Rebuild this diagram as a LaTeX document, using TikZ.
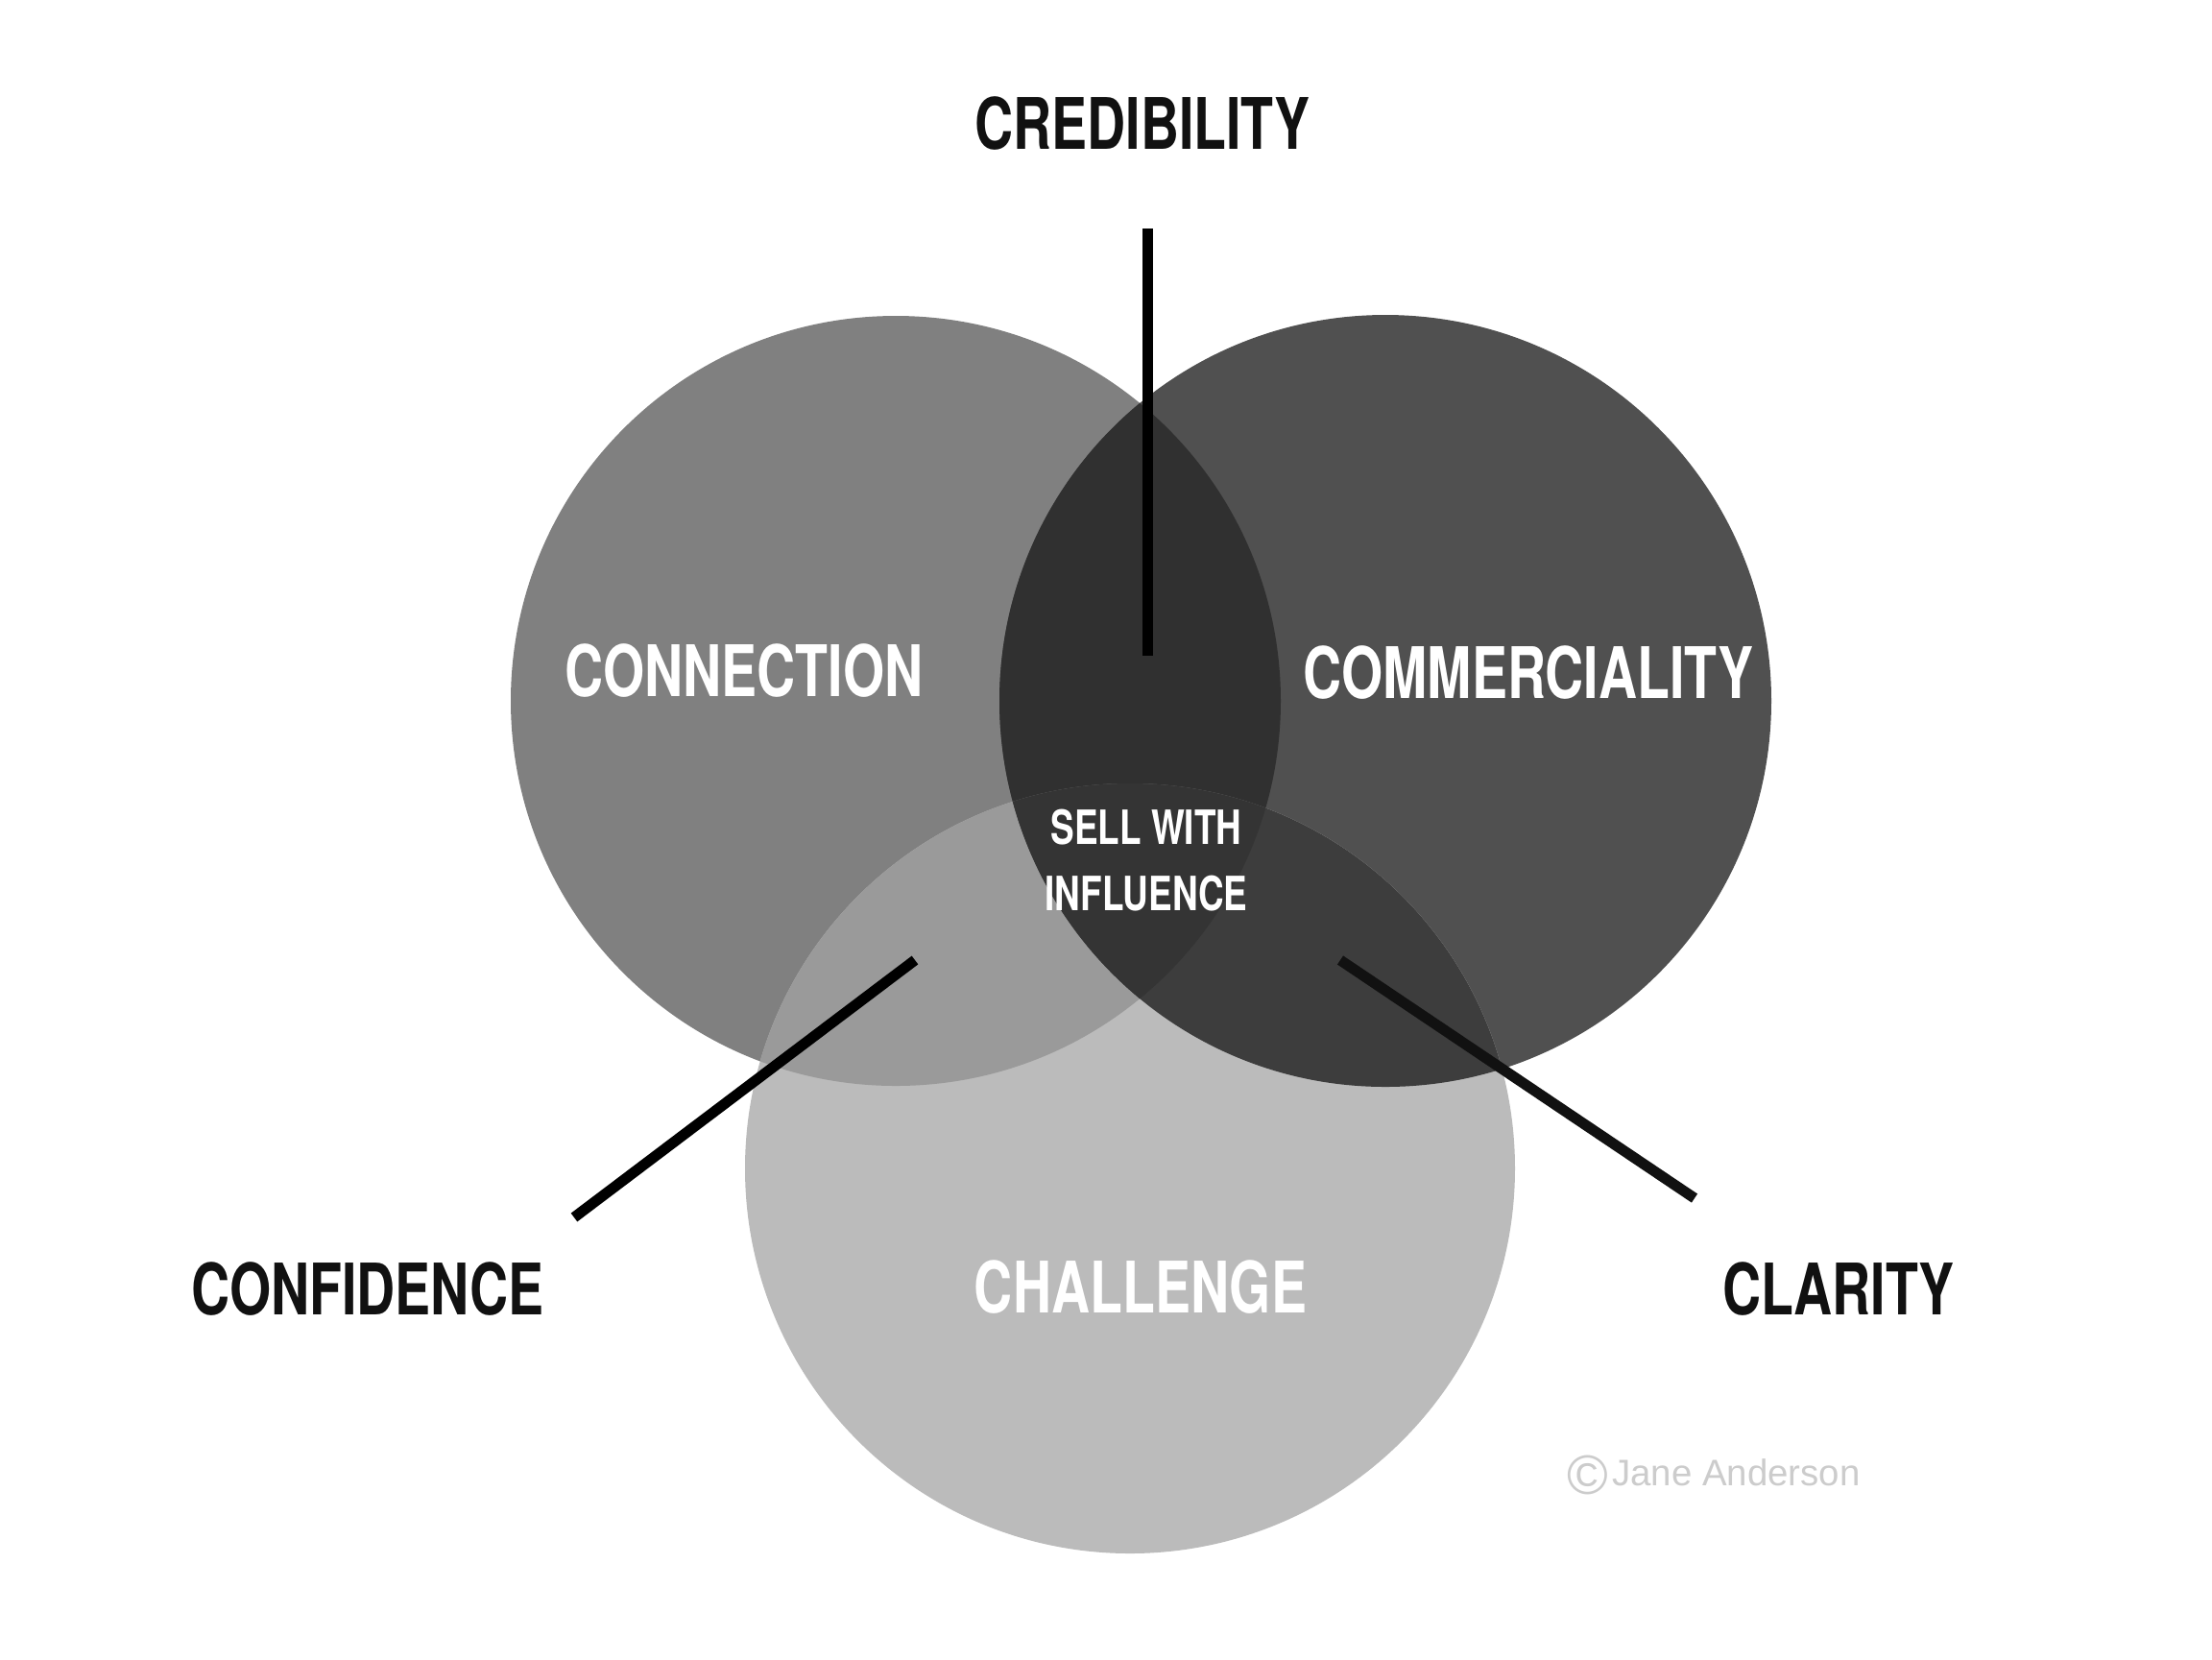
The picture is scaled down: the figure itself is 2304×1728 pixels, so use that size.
\documentclass[tikz,border=0pt]{standalone}
\usepackage{fontspec}
\setmainfont{Liberation Sans}
\newfontfamily\condfont[FakeStretch=0.75]{TeX Gyre Heros}
\usetikzlibrary{calc}

\definecolor{connectgray}{RGB}{128,128,128}
\definecolor{commercegray}{RGB}{80,80,80}
\definecolor{challengegray}{RGB}{187,187,187}
\definecolor{credgray}{RGB}{48,48,48}
\definecolor{confgray}{RGB}{154,154,154}
\definecolor{claritygray}{RGB}{61,61,61}
\definecolor{coregray}{RGB}{52,52,52}
\definecolor{labelblack}{RGB}{17,17,17}
\definecolor{markgray}{RGB}{204,204,204}

\tikzset{
  spoke/.style={line width=2.75pt,line cap=butt},
  outerlabel/.style={inner sep=0pt,anchor=center,text=labelblack,
    font=\condfont\bfseries\fontsize{18.5}{20}\selectfont},
  innerlabel/.style={inner sep=0pt,anchor=center,text=white,
    font=\condfont\bfseries\fontsize{18.5}{20}\selectfont},
  corelabel/.style={inner sep=0pt,anchor=center,text=white,align=center,
    font=\condfont\bfseries\fontsize{12.3}{17.25}\selectfont}
}

\begin{document}
\begin{tikzpicture}[x=0.25pt,y=0.25pt,yscale=-1,xscale=1]
%set diagram left start at 0, and has height of 1728
\path[use as bounding box,fill=white] (0,0) rectangle (2304,1728);

%Circle centres
\coordinate (cL) at (933,730);
\coordinate (cR) at (1443,730);
\coordinate (cB) at (1177,1217);

%Shape: Circle [connection]
\fill[connectgray] (cL) circle [radius=401];
%Shape: Circle [commerciality]
\fill[commercegray] (cR) circle [radius=402];
%Shape: Circle [challenge]
\fill[challengegray] (cB) circle [radius=401];

%Overlap: connection / commerciality
\begin{scope}
  \clip (cL) circle [radius=401];
  \fill[credgray] (cR) circle [radius=402];
\end{scope}
%Overlap: connection / challenge
\begin{scope}
  \clip (cL) circle [radius=401];
  \fill[confgray] (cB) circle [radius=401];
\end{scope}
%Overlap: commerciality / challenge
\begin{scope}
  \clip (cR) circle [radius=402];
  \fill[claritygray] (cB) circle [radius=401];
\end{scope}
%Overlap: all three
\begin{scope}
  \clip (cL) circle [radius=401];
  \clip (cR) circle [radius=402];
  \fill[coregray] (cB) circle [radius=401];
\end{scope}

%Spoke ends
\coordinate (credtop) at (1195,238);
\coordinate (credend) at (1195,683);
\coordinate (confout) at (598,1268);
\coordinate (confin) at (953,1000);
\coordinate (clarin) at (1396,1000);
\coordinate (clarout) at (1765,1248);

%Straight Lines
\draw[spoke,black] (credtop) -- (credend);
\draw[spoke,black] (confout) -- (confin);
\draw[spoke,labelblack] (clarin) -- (clarout);

% Text Node
\node[outerlabel] (credibility) at (1190,129) {CREDIBILITY};
% Text Node
\node[innerlabel] (connection) at (775,699) {CONNECTION};
% Text Node
\node[innerlabel] (commerciality) at (1592,701) {COMMERCIALITY};
% Text Node
\node[corelabel] (sell) at (1194,896) {SELL WITH\\INFLUENCE};
% Text Node
\node[innerlabel] (challenge) at (1188,1340) {CHALLENGE};
% Text Node
\node[outerlabel] (confidence) at (383,1342) {CONFIDENCE};
% Text Node
\node[outerlabel] (clarity) at (1915,1342) {CLARITY};
% Text Node
\node[inner sep=0pt,anchor=center,text=markgray,font=\fontsize{9.6}{11}\selectfont]
  (watermark) at (1785,1536) {{\fontsize{14.5}{14}\selectfont\raisebox{-0.14em}{©}}\kern1pt Jane Anderson};

\end{tikzpicture}
\end{document}
